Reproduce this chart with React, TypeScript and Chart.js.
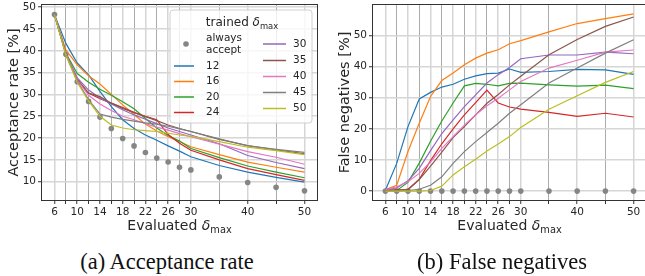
import React, { useEffect, useRef } from "react";
import { Chart, registerables } from "chart.js";

Chart.register(...registerables);

// ---------- data ----------
const evaluated = [6, 8, 10, 12, 14, 16, 18, 20, 22, 24, 26, 28, 30, 35, 40, 45, 50];
const labeledTicks = [6, 10, 14, 18, 22, 26, 30, 40, 50];
const accTicks = [10, 15, 20, 25, 30, 35, 40, 45, 50];
const fnTicks = [0, 10, 20, 30, 40, 50];
const trained = ["12", "16", "20", "24", "30", "35", "40", "45", "50"];
const seriesColors = ["#1f77b4", "#ff7f0e", "#2ca02c", "#d62728", "#9467bd", "#8c564b", "#e377c2", "#7f7f7f", "#bcbd22"];

const accAlways = [48.3, 39.2, 32.9, 28.4, 24.8, 22.2, 19.9, 18.2, 16.7, 15.4, 14.5, 13.3, 12.7, 11.1, 9.8, 8.7, 7.9];
const acc12 = [48.3, 41.7, 37.2, 34.5, 30.7, 27.2, 24.2, 22.2, 20.7, 19.5, 18.2, 17.0, 15.7, 13.7, 12.2, 11.0, 9.9];
const acc16 = [48.3, 40.2, 36.8, 34.3, 32.4, 30.0, 27.6, 25.4, 23.2, 21.6, 20.3, 19.2, 18.0, 16.2, 14.5, 13.3, 12.2];
const acc20 = [48.3, 39.5, 34.8, 32.8, 31.2, 29.8, 28.3, 26.7, 24.5, 22.3, 20.6, 19.3, 17.6, 15.5, 13.6, 12.2, 10.9];
const acc24 = [48.3, 39.3, 33.5, 30.3, 29.0, 28.0, 27.0, 25.9, 25.0, 24.2, 20.8, 18.8, 17.2, 15.0, 13.0, 11.6, 10.3];
const acc30 = [48.3, 39.4, 33.8, 31.0, 29.2, 27.8, 26.5, 25.3, 24.3, 23.3, 22.3, 21.5, 20.7, 18.7, 16.0, 14.4, 13.0];
const acc35 = [48.3, 39.3, 33.2, 30.3, 29.5, 28.0, 26.8, 25.8, 24.9, 24.0, 23.0, 22.2, 21.5, 19.7, 18.3, 17.3, 16.4];
const acc40 = [48.3, 39.3, 33.3, 29.8, 27.8, 26.3, 25.0, 24.2, 23.3, 22.5, 21.8, 21.0, 20.3, 18.6, 16.9, 15.6, 14.0];
const acc45 = [48.3, 39.1, 33.0, 28.8, 25.5, 24.8, 24.3, 23.9, 23.5, 23.2, 22.7, 22.1, 21.5, 19.8, 18.2, 17.4, 16.7];
const acc50 = [48.3, 39.0, 32.8, 28.5, 25.0, 23.0, 22.3, 21.9, 21.7, 21.5, 21.1, 20.7, 20.4, 19.2, 17.9, 17.1, 16.2];

const fnAlways = [0, 0, 0, 0, 0, 0, 0, 0, 0, 0, 0, 0, 0, 0, 0, 0, 0];
const fn12 = [0.3, 8.9, 20.7, 29.6, 31.7, 33.4, 34.3, 35.9, 37.0, 37.7, 37.9, 39.2, 38.1, 38.4, 39.1, 38.9, 37.5];
const fn16 = [0.5, 1.9, 12.7, 21.8, 30.4, 35.5, 37.9, 40.6, 42.7, 44.3, 45.4, 47.3, 48.3, 51.1, 53.8, 55.4, 56.9];
const fn20 = [0.2, 0.2, 2.8, 9.0, 16.0, 22.5, 28.3, 33.8, 34.6, 34.3, 33.8, 34.6, 34.7, 34.1, 33.7, 34.0, 32.9];
const fn24 = [0.3, 0.3, 0.5, 3.8, 9.8, 15.2, 20.0, 24.5, 28.4, 32.4, 28.3, 27.0, 26.3, 25.3, 24.0, 25.0, 23.8];
const fn30 = [0.5, 1.0, 3.3, 7.3, 13.0, 18.5, 22.9, 27.1, 30.9, 34.7, 37.4, 39.7, 42.5, 43.7, 43.7, 44.6, 44.1];
const fn35 = [0.3, 0.3, 0.5, 3.7, 8.0, 12.5, 17.2, 20.7, 24.5, 28.2, 31.0, 34.1, 36.9, 43.8, 48.7, 52.9, 55.9];
const fn40 = [0.5, 1.4, 3.0, 5.7, 9.4, 13.7, 17.5, 21.2, 24.5, 27.4, 29.8, 32.5, 35.2, 39.5, 42.0, 44.6, 45.3];
const fn45 = [0.0, 0.0, 0.2, 0.6, 1.9, 4.6, 8.9, 12.7, 15.9, 18.8, 21.8, 25.0, 27.7, 34.7, 39.5, 44.3, 48.6];
const fn50 = [0.0, 0.0, 0.0, 0.0, 0.2, 1.6, 5.2, 7.8, 10.2, 12.9, 15.1, 17.5, 20.4, 26.3, 30.6, 34.9, 38.4];

const accSeries = [acc12, acc16, acc20, acc24, acc30, acc35, acc40, acc45, acc50];
const fnSeries = [fn12, fn16, fn20, fn24, fn30, fn35, fn40, fn45, fn50];

const FONT = "'DejaVu Sans', sans-serif";
const TEXT = "#262626";
const DOT = "#858585";

function drawDeltaText(ctx: CanvasRenderingContext2D, prefix: string, cx: number, baseline: number, size: number) {
  ctx.save();
  ctx.fillStyle = TEXT;
  ctx.textBaseline = "alphabetic";
  ctx.textAlign = "left";
  const f1 = `${size}px ${FONT}`;
  const f2 = `oblique ${size}px ${FONT}`;
  const sub = size * 0.7;
  const f3 = `${sub}px ${FONT}`;
  ctx.font = f1;
  const w1 = ctx.measureText(prefix).width;
  ctx.font = f2;
  const w2 = ctx.measureText("δ").width;
  ctx.font = f3;
  const w3 = ctx.measureText("max").width;
  let x = cx - (w1 + w2 + w3) / 2;
  ctx.font = f1;
  ctx.fillText(prefix, x, baseline);
  x += w1;
  ctx.font = f2;
  ctx.fillText("δ", x, baseline);
  x += w2;
  ctx.font = f3;
  ctx.fillText("max", x, baseline + size * 0.22);
  ctx.restore();
}

function makeDecorPlugin(withLegend: boolean) {
  return {
    id: "decor",
    afterDraw(chart: any) {
      const ctx: CanvasRenderingContext2D = chart.ctx;
      const a = chart.chartArea;
      // frame
      ctx.save();
      ctx.strokeStyle = "#333333";
      ctx.lineWidth = 1;
      ctx.strokeRect(Math.round(a.left) - 0.5, Math.round(a.top) - 0.5, Math.round(a.right - a.left) + 1, Math.round(a.bottom - a.top) + 1);
      ctx.restore();
      // x title
      drawDeltaText(ctx, "Evaluated ", (a.left + a.right) / 2, 229.5, 14);
      if (!withLegend) return;
      // legend
      const bx = 170, by = 10, bw = 142, bh = 113, r = 3;
      ctx.save();
      ctx.beginPath();
      ctx.moveTo(bx + r, by);
      ctx.lineTo(bx + bw - r, by);
      ctx.quadraticCurveTo(bx + bw, by, bx + bw, by + r);
      ctx.lineTo(bx + bw, by + bh - r);
      ctx.quadraticCurveTo(bx + bw, by + bh, bx + bw - r, by + bh);
      ctx.lineTo(bx + r, by + bh);
      ctx.quadraticCurveTo(bx, by + bh, bx, by + bh - r);
      ctx.lineTo(bx, by + r);
      ctx.quadraticCurveTo(bx, by, bx + r, by);
      ctx.closePath();
      ctx.fillStyle = "rgba(255,255,255,0.8)";
      ctx.fill();
      ctx.strokeStyle = "#d0d0d0";
      ctx.lineWidth = 1;
      ctx.stroke();
      ctx.restore();

      drawDeltaText(ctx, "trained ", 242, 26, 12);

      ctx.save();
      ctx.font = `10.5px ${FONT}`;
      ctx.fillStyle = TEXT;
      ctx.textBaseline = "middle";
      ctx.textAlign = "left";
      // always accept
      ctx.beginPath();
      ctx.arc(186, 44, 2.8, 0, Math.PI * 2);
      ctx.fillStyle = DOT;
      ctx.fill();
      ctx.fillStyle = TEXT;
      ctx.fillText("always", 206, 38);
      ctx.fillText("accept", 206, 50);
      const col1Y = [66, 81.5, 97, 112.5];
      const col2Y = [44, 60.5, 76.5, 92.5, 108.5];
      trained.forEach((lab, i) => {
        const inCol1 = i < 4;
        const y = inCol1 ? col1Y[i] : col2Y[i - 4];
        const x0 = inCol1 ? 174 : 263;
        const x1 = inCol1 ? 194 : 286;
        const tx = inCol1 ? 206 : 293;
        ctx.beginPath();
        ctx.moveTo(x0, y);
        ctx.lineTo(x1, y);
        ctx.strokeStyle = seriesColors[i];
        ctx.lineWidth = 1.5;
        ctx.stroke();
        ctx.fillStyle = TEXT;
        ctx.fillText(lab, tx, y);
      });
      ctx.restore();
    },
  };
}

function buildConfig(opts: {
  always: number[];
  series: number[][];
  yMin: number;
  yMax: number;
  yTicks: number[];
  yTitle: string;
  yWidth: number;
  titlePad: number;
  padRight: number;
  legend: boolean;
}): any {
  const n = opts.series.length + 1;
  const datasets: any[] = [
    {
      label: "always accept",
      data: evaluated.map((x, i) => ({ x, y: opts.always[i] })),
      showLine: false,
      pointRadius: 2.8,
      pointBackgroundColor: DOT,
      pointBorderWidth: 0,
      borderColor: DOT,
      order: n,
    },
    ...opts.series.map((s, k) => ({
      label: trained[k],
      data: evaluated.map((x, i) => ({ x, y: s[i] })),
      borderColor: seriesColors[k],
      borderWidth: 1.2,
      pointRadius: 0,
      tension: 0,
      fill: false,
      order: n - 1 - k,
    })),
  ];
  const tickFont = { family: FONT, size: 10.5 };
  return {
    type: "line",
    data: { datasets },
    options: {
      animation: false,
      responsive: false,
      devicePixelRatio: 1,
      layout: { padding: { left: 0, top: 5, right: opts.padRight, bottom: 0 } },
      plugins: { legend: { display: false }, tooltip: { enabled: false } },
      scales: {
        x: {
          type: "linear",
          min: 3.8,
          max: 52.2,
          afterBuildTicks: (s: any) => {
            s.ticks = evaluated.map((v) => ({ value: v }));
          },
          afterFit: (s: any) => {
            s.height = 40;
            s.paddingLeft = 0;
            s.paddingRight = 0;
            s.paddingTop = 0;
            s.paddingBottom = 0;
          },
          ticks: {
            autoSkip: false,
            maxRotation: 0,
            minRotation: 0,
            padding: 2,
            color: TEXT,
            font: tickFont,
            callback: (v: any) => (labeledTicks.includes(Number(v)) ? String(v) : ""),
          },
          grid: {
            color: (c: any) => (c.tick && labeledTicks.includes(c.tick.value) ? "#d6d6d6" : "#ababab"),
            lineWidth: (c: any) => (c.tick && labeledTicks.includes(c.tick.value) ? 1.5 : 1),
            tickLength: 4,
            tickColor: "#333333",
            tickWidth: 1,
          },
          border: { display: false },
        },
        y: {
          type: "linear",
          min: opts.yMin,
          max: opts.yMax,
          afterBuildTicks: (s: any) => {
            s.ticks = opts.yTicks.map((v) => ({ value: v }));
          },
          afterFit: (s: any) => {
            s.width = opts.yWidth;
            s.paddingLeft = 0;
            s.paddingRight = 0;
            s.paddingTop = 0;
            s.paddingBottom = 0;
          },
          ticks: { padding: 2, color: TEXT, font: tickFont },
          grid: { color: "#d6d6d6", lineWidth: 1.5, tickLength: 4, tickColor: "#333333", tickWidth: 1 },
          border: { display: false },
          title: {
            display: true,
            text: opts.yTitle,
            color: TEXT,
            font: { family: FONT, size: 14.5 },
            padding: { top: opts.titlePad, bottom: 0 },
          },
        },
      },
    },
    plugins: [makeDecorPlugin(opts.legend)],
  };
}

export default function App() {
  const leftRef = useRef<HTMLCanvasElement>(null);
  const rightRef = useRef<HTMLCanvasElement>(null);

  useEffect(() => {
    const c1 = new Chart(
      leftRef.current as HTMLCanvasElement,
      buildConfig({
        always: accAlways,
        series: accSeries,
        yMin: 5.8,
        yMax: 50.5,
        yTicks: accTicks,
        yTitle: "Acceptance rate [%]",
        yWidth: 42,
        titlePad: 5.4,
        padRight: 5,
        legend: true,
      })
    );
    const c2 = new Chart(
      rightRef.current as HTMLCanvasElement,
      buildConfig({
        always: fnAlways,
        series: fnSeries,
        yMin: -2.85,
        yMax: 59.75,
        yTicks: fnTicks,
        yTitle: "False negatives [%]",
        yWidth: 53,
        titlePad: 16.8,
        padRight: 2,
        legend: false,
      })
    );
    return () => {
      c1.destroy();
      c2.destroy();
    };
  }, []);

  const caption: React.CSSProperties = {
    position: "absolute",
    top: 248,
    height: 28,
    lineHeight: "28px",
    fontFamily: "'Liberation Serif', 'Times New Roman', serif",
    fontSize: 22.5,
    color: "#111",
    textAlign: "center",
    whiteSpace: "nowrap",
  };

  return (
    <div style={{ position: "fixed", left: 0, top: 0, width: 645, height: 276, overflow: "hidden", background: "#ffffff" }}>
      <canvas ref={leftRef} width={322} height={240} style={{ position: "absolute", left: 0, top: 0 }} />
      <canvas ref={rightRef} width={330} height={240} style={{ position: "absolute", left: 320, top: 0 }} />
      <div style={{ ...caption, left: 67, width: 200 }}>(a) Acceptance rate</div>
      <div style={{ ...caption, left: 402, width: 200 }}>(b) False negatives</div>
    </div>
  );
}
